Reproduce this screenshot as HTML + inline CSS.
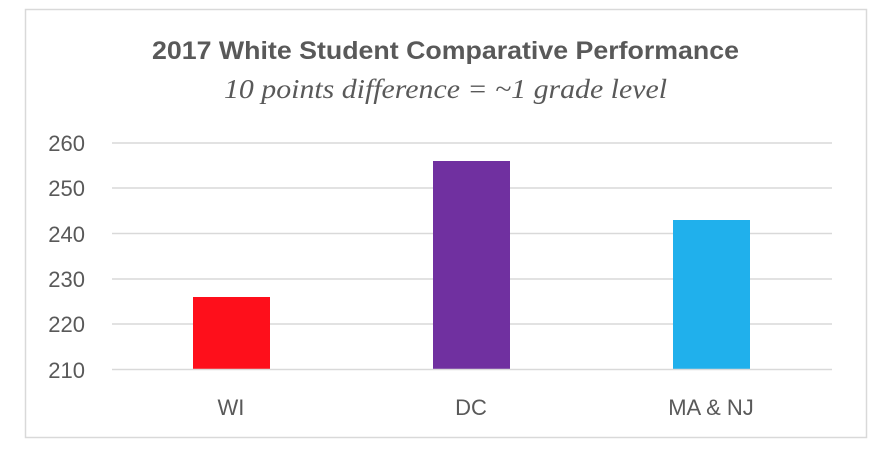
<!DOCTYPE html>
<html><head><style>
html,body{margin:0;padding:0;background:#fff;}
</style></head><body>
<svg width="890" height="457" xmlns="http://www.w3.org/2000/svg" style="display:block">
<rect x="25.5" y="9.5" width="841" height="428" fill="#fff" stroke="#d9d9d9" stroke-width="1.5"/>
<text x="152" y="59" textLength="587" lengthAdjust="spacingAndGlyphs" font-family="Liberation Sans, sans-serif" font-weight="bold" font-size="25" fill="#595959">2017 White Student Comparative Performance</text>
<text x="224" y="98" textLength="443" lengthAdjust="spacingAndGlyphs" font-family="Liberation Serif, serif" font-style="italic" font-size="27" fill="#595959">10 points difference = ~1 grade level</text>
<g stroke="#d9d9d9" stroke-width="1.5">
<line x1="112" x2="832" y1="143" y2="143"/>
<line x1="112" x2="832" y1="188" y2="188"/>
<line x1="112" x2="832" y1="233.5" y2="233.5"/>
<line x1="112" x2="832" y1="279" y2="279"/>
<line x1="112" x2="832" y1="324" y2="324"/>
</g>
<rect x="193" y="297" width="77" height="72" fill="#fe0f1b"/>
<rect x="433" y="161" width="77" height="208" fill="#7030a0"/>
<rect x="673" y="220" width="77" height="149" fill="#20b0ec"/>
<line x1="112" x2="832" y1="369.5" y2="369.5" stroke="#d9d9d9" stroke-width="1.5"/>
<g font-family="Liberation Sans, sans-serif" font-size="22" fill="#595959" text-anchor="end">
<text x="85" y="151">260</text>
<text x="85" y="196">250</text>
<text x="85" y="242">240</text>
<text x="85" y="287">230</text>
<text x="85" y="332">220</text>
<text x="85" y="378">210</text>
</g>
<g font-family="Liberation Sans, sans-serif" font-size="22" fill="#595959" text-anchor="middle">
<text x="231" y="415">WI</text>
<text x="471" y="415">DC</text>
<text x="711" y="415">MA &amp; NJ</text>
</g>
</svg>
</body></html>
